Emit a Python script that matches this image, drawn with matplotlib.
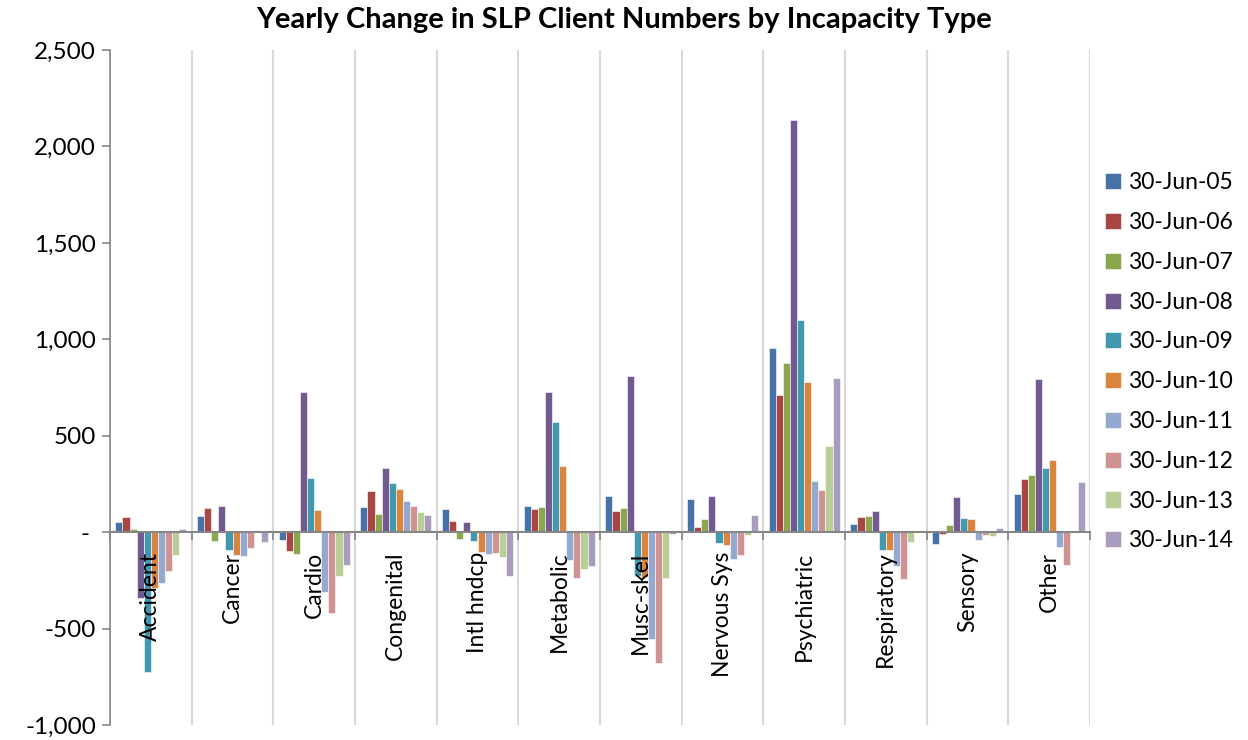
import matplotlib
matplotlib.use("Agg")
import matplotlib.pyplot as plt
import numpy as np
from matplotlib.ticker import FuncFormatter, FixedLocator

plt.rcParams['font.family'] = ['Lato', 'DejaVu Sans']

categories = ["Accident", "Cancer", "Cardio", "Congenital", "Intl hndcp", "Metabolic",
              "Musc-skel", "Nervous Sys", "Psychiatric", "Respiratory", "Sensory", "Other"]
series_names = ["30-Jun-05", "30-Jun-06", "30-Jun-07", "30-Jun-08", "30-Jun-09",
                "30-Jun-10", "30-Jun-11", "30-Jun-12", "30-Jun-13", "30-Jun-14"]

jun05 = [52, 86, -43, 131, 121, 133, 188, 171, 957, 41, -60, 199]
jun06 = [79, 123, -100, 212, 59, 121, 109, 26, 713, 76, -10, 278]
jun07 = [17, -48, -112, 92, -35, 130, 123, 66, 879, 86, 35, 294]
jun08 = [-340, 133, 729, 332, 54, 727, 810, 187, 2138, 112, 181, 794]
jun09 = [-725, -90, 283, 256, -48, 573, -228, -55, 1102, -95, 71, 335]
jun10 = [-290, -120, 114, 223, -105, 342, -230, -69, 781, -90, 66, 375]
jun11 = [-266, -123, -311, 159, -112, -147, -556, -140, 264, -173, -41, -78]
jun12 = [-202, -83, -418, 135, -109, -237, -677, -119, 218, -242, -17, -168]
jun13 = [-117, 9, -228, 107, -128, -190, -238, -14, 449, -50, -21, 0]
jun14 = [14, -52, -169, 90, -225, -173, -12, 88, 800, 0, 24, 262]

series = [jun05, jun06, jun07, jun08, jun09, jun10, jun11, jun12, jun13, jun14]
colors = ["#4672A8", "#A94543", "#8AA64F", "#725990", "#4298AF",
          "#DB843D", "#93A9D0", "#D09393", "#B9CD97", "#A99BBD"]

fig = plt.figure(figsize=(12.48, 7.40), dpi=100)
ax = fig.add_axes([110/1248, 1-725/740, (1090-110)/1248, (725-50)/740])

n = len(series)
x = np.arange(len(categories))
bw = 0.087
for j, (vals, name, c) in enumerate(zip(series, series_names, colors)):
    ax.bar(x + (j - (n-1)/2)*bw, vals, width=bw, color=c, label=name,
           edgecolor='white', linewidth=0.4, zorder=2)

ax.set_xlim(-0.5, len(categories)-0.5)
ax.set_ylim(-1000, 2500)

for s in ['top', 'right']:
    ax.spines[s].set_visible(False)
ax.spines['bottom'].set_position(('data', 0))
ax.spines['bottom'].set_color('#868686')
ax.spines['bottom'].set_linewidth(1.5)
ax.spines['bottom'].set_zorder(3)
ax.spines['left'].set_color('#868686')
ax.spines['left'].set_linewidth(1.2)

bounds = np.arange(len(categories)+1) - 0.5
ax.xaxis.set_major_locator(FixedLocator(bounds))
ax.set_xticklabels([""]*len(bounds))
ax.tick_params(axis='x', which='major', direction='out', length=6, color='#868686', width=1.2)
ax.grid(axis='x', which='major', color='#D9D9D9', linewidth=1.5, zorder=0)

for i, cat in enumerate(categories):
    ax.annotate(cat, xy=(i, 0), xycoords='data', xytext=(0, -14),
                textcoords='offset points', rotation=90, ha='center', va='top',
                fontsize=16.5, zorder=5, annotation_clip=False)

def fmt(v, pos):
    if v == 0:
        return "- "
    return f"{v:,.0f}"
ax.set_yticks(np.arange(-1000, 2501, 500))
ax.yaxis.set_major_formatter(FuncFormatter(fmt))
ax.tick_params(axis='y', direction='out', length=6, color='#868686', width=1.2,
               labelsize=17.5, pad=4)

fig.suptitle("Yearly Change in SLP Client Numbers by Incapacity Type",
             fontsize=21, fontweight='bold', x=0.5, y=0.99, va='top')

leg = ax.legend(loc='upper left', bbox_to_anchor=(1096/1248, 1-163/740),
                bbox_transform=fig.transFigure, frameon=False, fontsize=16.5,
                handlelength=0.7, handleheight=0.7, handletextpad=0.3,
                labelspacing=0.82, borderaxespad=0)

fig.savefig("out.png", dpi=100)
